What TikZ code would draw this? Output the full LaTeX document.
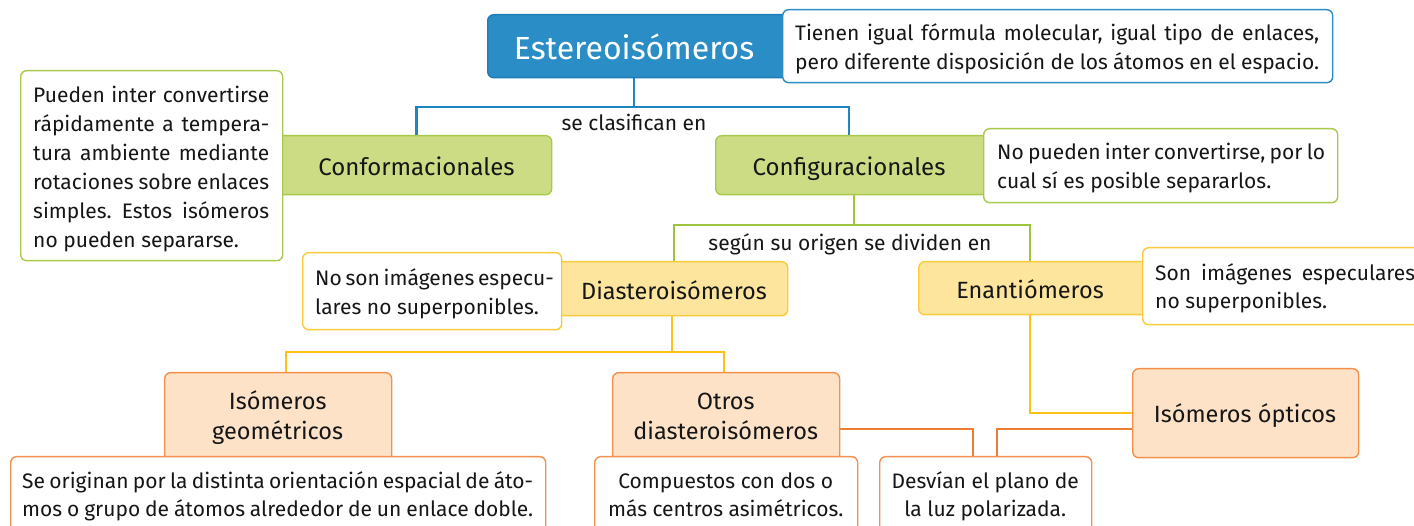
\documentclass[tikz,border=0pt]{standalone}
\usepackage{fontspec}
\setmainfont{Fira Sans}
\usetikzlibrary{backgrounds}
\frenchspacing
\definecolor{blueF}{HTML}{2A8DC5}
\definecolor{blueB}{HTML}{1D7DB9}
\definecolor{blueC}{HTML}{1F84C2}
\definecolor{greenF}{HTML}{CCDC85}
\definecolor{greenB}{HTML}{A8CA4C}
\definecolor{greenC}{HTML}{9CC43D}
\definecolor{yelF}{HTML}{FDE59D}
\definecolor{yelB}{HTML}{FBCB3C}
\definecolor{yelC}{HTML}{FBC21A}
\definecolor{orgF}{HTML}{FDE2C8}
\definecolor{orgB}{HTML}{F3904C}
\definecolor{orgC}{HTML}{EE7D34}
\definecolor{txtc}{HTML}{161616}
\newcommand\jl[1]{\makebox[\hsize][s]{#1}\par}
\newcommand\blk[3]{\vtop{\hsize=#1pt\parindent=0pt\parskip=0pt\baselineskip=#2pt\lineskiplimit=-20pt\relax #3}}
\tikzset{
  boxs/.style={inner sep=0pt, rounded corners=6pt, line width=1.4pt, anchor=north west},
  bluebox/.style={boxs, fill=blueF, draw=blueB},
  greenbox/.style={boxs, fill=greenF, draw=greenB},
  yelbox/.style={boxs, fill=yelF, draw=yelB},
  orgbox/.style={boxs, fill=orgF, draw=orgB},
  descbox/.style={boxs, fill=white, draw=#1},
  conn/.style={line width=2.6pt, draw=#1},
  lbl/.style={inner sep=0pt, anchor=base, text=txtc},
  tx/.style={inner sep=0pt, anchor=base west, text=txtc, font=\fontsize{21}{28.5}\selectfont},
  big/.style={font=\fontsize{24}{28}\selectfont},
  mid/.style={font=\fontsize{23.5}{27}\selectfont},
  small/.style={font=\fontsize{21}{25}\selectfont},
}
\begin{document}
\begin{tikzpicture}[x=1pt,y=-1pt]
\clip (0,0) rectangle (1414,526);

% main boxes
\node[bluebox, minimum width=308pt, minimum height=63pt] (estereo) at (487,14) {};
\node[greenbox, minimum width=281pt, minimum height=59pt] (conform) at (270,135) {};
\node[greenbox, minimum width=280pt, minimum height=59pt] (config) at (715,135) {};
\node[yelbox, minimum width=237pt, minimum height=54pt] (diast) at (550,261) {};
\node[yelbox, minimum width=237pt, minimum height=53pt] (enant) at (918,261) {};
\node[orgbox, minimum width=227pt, minimum height=94pt] (geo) at (164,372) {};
\node[orgbox, minimum width=227pt, minimum height=94pt] (otros) at (612,372) {};
\node[orgbox, minimum width=226pt, minimum height=89pt] (opt) at (1132,368) {};

% text of main boxes
\node[lbl, text=white, font=\fontsize{32}{36}\selectfont] (estereoT) at (634,60) {Estereoisómeros};
\node[lbl, big] (conformT) at (416.5,176) {Conformacionales};
\node[lbl, big] (configT) at (849,176) {Configuracionales};
\node[lbl, mid] (diastT) at (674,300) {Diasteroisómeros};
\node[lbl, mid] (enantT) at (1030,299) {Enantiómeros};
\node[tx, mid] (geoT) at (164,410) {\blk{227}{30}{\centering Isómeros\\geométricos\par}};
\node[tx, mid] (otrosT) at (612,410) {\blk{227}{30}{\centering Otros\\diasteroisómeros\par}};
\node[lbl, mid] (optT) at (1245,423) {Isómeros ópticos};

% junction points
\coordinate (b1) at (634,107);
\coordinate (g1) at (854,225);
\coordinate (y1) at (672,352);
\coordinate (y2) at (286,352);
\coordinate (y3) at (724,352);
\coordinate (o1) at (973,429);
\coordinate (o2) at (997,429);

% description boxes
\node[descbox=blueF, minimum width=550pt, minimum height=73pt] (destereo) at (782,9) {};
\node[descbox=greenB, minimum width=262pt, minimum height=190pt] (dconform) at (20,70) {};
\node[descbox=greenB, minimum width=354pt, minimum height=74pt] (dconfig) at (983,128) {};
\node[descbox=yelB, minimum width=259pt, minimum height=77pt] (ddiast) at (302,252) {};
\node[descbox=yelB, minimum width=290pt, minimum height=77pt] (denant) at (1142,247) {};
\node[descbox=orgB, minimum width=535pt, minimum height=90pt] (dgeo) at (10,456) {};
\node[descbox=orgB, minimum width=263pt, minimum height=90pt] (dotros) at (594,456) {};
\node[descbox=orgB, minimum width=212pt, minimum height=90pt] (ddesv) at (879,456) {};

% connectors
\begin{scope}[on background layer]
\fill[white] (0,0) rectangle (1414,526);
\draw[conn=blueC] (estereo.south -| estereoT) -- (b1);
\draw[conn=blueC] (conform.north -| conformT) |- (b1) -| (config.north -| configT);
\draw[conn=greenC] (config.south -| g1) -- (g1);
\draw[conn=greenC] (diast.north -| diastT) |- (g1) -| (enant.north -| enantT);
\draw[conn=yelC] (diast.south -| y1) -- (y1);
\draw[conn=yelC] (geo.north -| y2) -- (y2) -- (y3) -- (otros.north -| y3);
\draw[conn=yelC] (enant.south -| enantT) |- (opt.west);
\draw[conn=orgC] (otros.east |- o1) -| (ddesv.north -| o1);
\draw[conn=orgC] (opt.west |- o2) -| (ddesv.north -| o2);
\end{scope}

% connector labels
\node[lbl, small] (lab1) at (634,131) {se clasifican en};
\node[lbl, small] (lab2) at (850,251) {según su origen se dividen en};

% description texts
\node[tx] (destereoT) at (795,41) {\blk{524}{29}{\jl{Tienen igual fórmula molecular, igual tipo de enlaces,}\jl{pero diferente disposición de los átomos en el espacio.}}};
\node[tx] (dconformT) at (33,103) {\blk{236}{29}{\jl{Pueden inter convertirse}\jl{rápidamente a tempera-}\jl{tura ambiente mediante}\jl{rotaciones sobre enlaces}\jl{simples. Estos isómeros}no pueden separarse.\par}};
\node[tx] (dconfigT) at (997,160) {\blk{328}{28.5}{\jl{No pueden inter convertirse, por lo}cual sí es posible separarlos.\par}};
\node[tx] (ddiastT) at (315,286) {\blk{233}{28.5}{\jl{No son imágenes especu-}lares no superponibles.\par}};
\node[tx] (denantT) at (1155,281) {\blk{260}{27.5}{\jl{Son imágenes especulares}no superponibles.\par}};
\node[tx] (dgeoT) at (22,489) {\blk{511}{28}{\jl{Se originan por la distinta orientación espacial de áto-}\jl{mos o grupo de átomos alrededor de un enlace doble.}}};
\node[tx] (dotrosT) at (594,489) {\blk{263}{28}{\centering Compuestos con dos o\\más centros asimétricos.\par}};
\node[tx] (ddesvT) at (879,489) {\blk{212}{28}{\centering Desvían el plano de\\la luz polarizada.\par}};
\end{tikzpicture}
\end{document}
